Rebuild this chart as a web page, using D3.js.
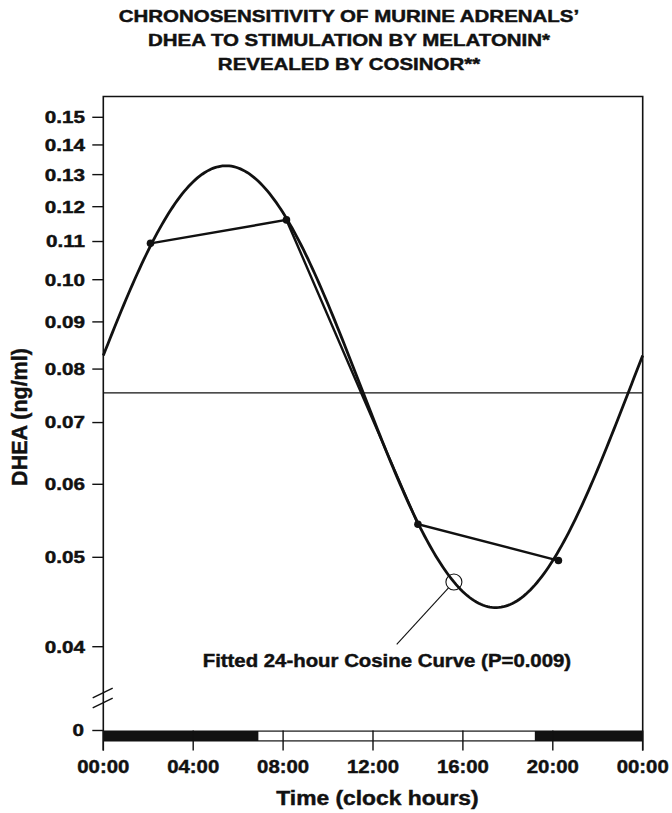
<!DOCTYPE html>
<html>
<head>
<meta charset="utf-8">
<script src="https://cdn.jsdelivr.net/npm/d3@7"></script>
<style>
  body { margin: 0; background: #fff; }
  text { font-family: "Liberation Sans", Arial, sans-serif; font-weight: bold; fill: #111; stroke: #111; stroke-width: 0.45px; }
</style>
</head>
<body>
<div id="chart"></div>
<script>
// chart data
var titleLines = ["CHRONOSENSITIVITY OF MURINE ADRENALS\u2019", "DHEA TO STIMULATION BY MELATONIN*", "REVEALED BY COSINOR**"];
var hours = [2.1, 8.15, 14.0, 20.25];
var dhea = [0.1095, 0.1161, 0.0543, 0.0496];
var yTicks = [0.04, 0.05, 0.06, 0.07, 0.08, 0.09, 0.10, 0.11, 0.12, 0.13, 0.14, 0.15];
var yTickLabels = ["0.04", "0.05", "0.06", "0.07", "0.08", "0.09", "0.10", "0.11", "0.12", "0.13", "0.14", "0.15"];
var xTicks = [0, 4, 8, 12, 16, 20, 24];
var xTickLabels = ["00:00", "04:00", "08:00", "12:00", "16:00", "20:00", "00:00"];
// cosinor fit (log scale): peak, trough, acrophase (h), period (h), MESOR
var fitPeak = 0.1329;
var fitTrough = 0.0441;
var acrophase = 5.46;
var period = 24;
var mesor = 0.0754;
var markerHour = 15.6;
var annotation = "Fitted 24-hour Cosine Curve (P=0.009)";
// light / dark span
var lightOn = 6.9;
var lightOff = 19.2;

var svgWidth = 672;
var svgHeight = 813;

var svg = d3.select("#chart")
  .append("svg")
  .attr("width", svgWidth)
  .attr("height", svgHeight);

var x = d3.scaleLinear()
  .domain([0, 24])
  .range([103.3, 642.7]);

var y = d3.scaleLog()
  .domain([0.04, 0.15])
  .range([646.7, 117.3]);

var plotTop = 96.5;
var zeroY = 730.5;
var barH = 11;

function stretch(sel, k) {
  sel.each(function() {
    var w = this.getComputedTextLength();
    d3.select(this).attr("textLength", w * k).attr("lengthAdjust", "spacingAndGlyphs");
  });
}

// title
var title = svg.append("g");
title.selectAll("text")
  .data(titleLines)
  .enter()
  .append("text")
  .attr("x", 349)
  .attr("y", (d, i) => 22.3 + i * 24)
  .attr("text-anchor", "middle")
  .style("font-size", "16.5px")
  .text(d => d)
  .call(stretch, 1.24);

// frame
svg.append("path")
  .attr("d", `M${x(0)},${zeroY + barH + 9}V${plotTop}H${x(24)}V${zeroY + barH + 9}`)
  .attr("fill", "none")
  .attr("stroke", "#111")
  .attr("stroke-width", 1.6);

// y ticks
var yAxis = svg.append("g");
yAxis.selectAll("line")
  .data(yTicks)
  .enter()
  .append("line")
  .attr("x1", x(0) - 11)
  .attr("x2", x(0))
  .attr("y1", d => y(d))
  .attr("y2", d => y(d))
  .attr("stroke", "#111")
  .attr("stroke-width", 1.4);

yAxis.selectAll("text")
  .data(yTicks)
  .enter()
  .append("text")
  .attr("x", 85)
  .attr("y", d => y(d))
  .attr("dy", "0.36em")
  .attr("text-anchor", "end")
  .style("font-size", "16.5px")
  .text((d, i) => yTickLabels[i])
  .call(stretch, 1.25);

// zero tick below the axis break
svg.append("line")
  .attr("x1", x(0) - 11)
  .attr("x2", x(0))
  .attr("y1", zeroY)
  .attr("y2", zeroY)
  .attr("stroke", "#111")
  .attr("stroke-width", 1.4);

svg.append("text")
  .attr("x", 84)
  .attr("y", zeroY)
  .attr("dy", "0.36em")
  .attr("text-anchor", "end")
  .style("font-size", "16.5px")
  .text("0")
  .call(stretch, 1.25);

// axis break marks
[-37.5, -27.5].forEach(function(off) {
  svg.append("line")
    .attr("x1", x(0) - 10.6)
    .attr("x2", x(0) + 9.4)
    .attr("y1", zeroY + off + 4.8)
    .attr("y2", zeroY + off - 4.8)
    .attr("stroke", "#111")
    .attr("stroke-width", 1.4);
});

// light/dark bar
svg.append("rect")
  .attr("x", x(0))
  .attr("y", zeroY)
  .attr("width", x(24) - x(0))
  .attr("height", barH)
  .attr("fill", "#111");

svg.append("rect")
  .attr("x", x(lightOn))
  .attr("y", zeroY + 1.2)
  .attr("width", x(lightOff) - x(lightOn))
  .attr("height", barH - 2.4)
  .attr("fill", "#fff");

// x ticks
var xAxis = svg.append("g");
xAxis.selectAll("line")
  .data(xTicks)
  .enter()
  .append("line")
  .attr("x1", d => x(d))
  .attr("x2", d => x(d))
  .attr("y1", zeroY)
  .attr("y2", zeroY + barH + 9)
  .attr("stroke", "#111")
  .attr("stroke-width", 1.4);

xAxis.selectAll("text")
  .data(xTicks)
  .enter()
  .append("text")
  .attr("x", d => x(d))
  .attr("y", 772.7)
  .attr("text-anchor", "middle")
  .style("font-size", "19px")
  .text((d, i) => xTickLabels[i])
  .call(stretch, 1.07);

// axis titles
svg.append("text")
  .attr("x", 377.5)
  .attr("y", 805)
  .attr("text-anchor", "middle")
  .style("font-size", "20px")
  .text("Time (clock hours)")
  .call(stretch, 1.14);

svg.append("text")
  .attr("transform", "translate(26.5, 417) rotate(-90)")
  .attr("text-anchor", "middle")
  .style("font-size", "21.5px")
  .text("DHEA (ng/ml)");

// mesor line
svg.append("line")
  .attr("x1", x(0))
  .attr("x2", x(24))
  .attr("y1", y(mesor))
  .attr("y2", y(mesor))
  .attr("stroke", "#111")
  .attr("stroke-width", 1.3);

// fitted cosine (on log values)
var M = (Math.log(fitPeak) + Math.log(fitTrough)) / 2;
var A = (Math.log(fitPeak) - Math.log(fitTrough)) / 2;
function fit(t) {
  return Math.exp(M + A * Math.cos(2 * Math.PI * (t - acrophase) / period));
}

var curveHours = d3.range(0, 24.001, 0.1);
svg.append("path")
  .datum(curveHours)
  .attr("d", d3.line().x(d => x(d)).y(d => y(fit(d))))
  .attr("fill", "none")
  .attr("stroke", "#111")
  .attr("stroke-width", 2.8);

// observed means
var pts = hours.map((h, i) => ({ h: h, v: dhea[i] }));
svg.append("path")
  .datum(pts)
  .attr("d", d3.line().x(d => x(d.h)).y(d => y(d.v)))
  .attr("fill", "none")
  .attr("stroke", "#111")
  .attr("stroke-width", 2.4);

svg.selectAll(".dot")
  .data(pts)
  .enter()
  .append("circle")
  .attr("class", "dot")
  .attr("cx", d => x(d.h))
  .attr("cy", d => y(d.v))
  .attr("r", 3.8)
  .attr("fill", "#111");

// annotation marker + leader
var mx = x(markerHour);
var my = y(fit(markerHour));
var tx = 396.7, ty = 644.3;
var ang = Math.atan2(ty - my, tx - mx);
svg.append("circle")
  .attr("cx", mx)
  .attr("cy", my)
  .attr("r", 8)
  .attr("fill", "none")
  .attr("stroke", "#111")
  .attr("stroke-width", 1.1);

svg.append("line")
  .attr("x1", mx + 8 * Math.cos(ang))
  .attr("y1", my + 8 * Math.sin(ang))
  .attr("x2", tx)
  .attr("y2", ty)
  .attr("stroke", "#111")
  .attr("stroke-width", 1.1);

svg.append("text")
  .attr("x", 202.7)
  .attr("y", 667)
  .style("font-size", "18.2px")
  .text(annotation)
  .call(stretch, 1.12);
</script>
</body>
</html>
